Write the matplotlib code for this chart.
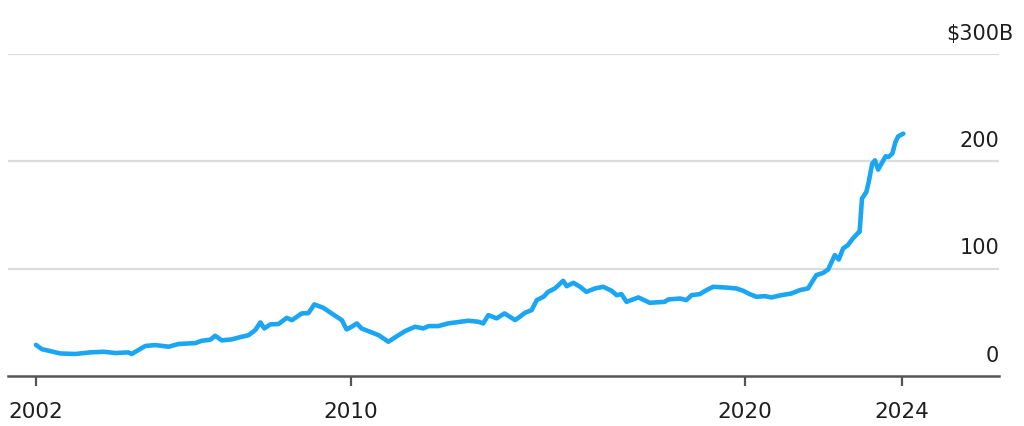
import matplotlib
matplotlib.use("Agg")
import matplotlib.pyplot as plt
import matplotlib.transforms as mtransforms

# ---- data ----
years = [2002.00, 2002.15, 2002.62, 2003.00, 2003.38, 2003.72, 2004.02, 2004.35, 2004.43,
         2004.78, 2005.03, 2005.37, 2005.62, 2006.05, 2006.21, 2006.43, 2006.55, 2006.72,
         2006.97, 2007.23, 2007.40, 2007.57, 2007.70, 2007.80, 2007.95, 2008.16, 2008.37,
         2008.50, 2008.75, 2008.92, 2009.07, 2009.30, 2009.51, 2009.77, 2009.89, 2010.02,
         2010.15, 2010.27, 2010.70, 2010.95, 2011.12, 2011.38, 2011.63, 2011.84, 2011.97,
         2012.22, 2012.47, 2012.98, 2013.24, 2013.36, 2013.49, 2013.70, 2013.90, 2014.17,
         2014.29, 2014.42, 2014.59, 2014.72, 2014.89, 2015.01, 2015.18, 2015.39, 2015.48,
         2015.65, 2015.82, 2015.98, 2016.20, 2016.41, 2016.62, 2016.75, 2016.87, 2017.00,
         2017.30, 2017.59, 2017.97, 2018.06, 2018.36, 2018.52, 2018.65, 2018.86, 2019.03,
         2019.20, 2019.49, 2019.79, 2019.96, 2020.13, 2020.30, 2020.51, 2020.68, 2020.93,
         2021.19, 2021.40, 2021.61, 2021.74, 2021.82, 2021.99, 2022.12, 2022.29, 2022.39,
         2022.50, 2022.62, 2022.75, 2022.88, 2022.92, 2022.98, 2023.09, 2023.15, 2023.24,
         2023.31, 2023.39, 2023.58, 2023.65, 2023.75, 2023.83, 2023.90, 2024.03]
values = [29.0, 25.0, 21.0, 20.5, 22.0, 22.6, 21.4, 22.0, 20.5,
          28.0, 28.8, 27.3, 29.8, 30.7, 32.8, 33.8, 37.5, 33.2,
          34.1, 36.6, 38.0, 42.8, 49.9, 44.3, 48.1, 48.4, 54.2,
          52.0, 58.3, 58.6, 66.7, 63.5, 58.3, 52.0, 43.4, 45.9,
          49.0, 44.3, 38.1, 31.9, 36.0, 41.9, 45.9, 44.3, 46.5,
          46.5, 49.0, 51.5, 50.5, 49.0, 56.7, 53.7, 58.3, 52.1,
          55.2, 58.9, 61.4, 70.7, 73.8, 78.4, 81.6, 88.7, 83.7,
          86.8, 83.1, 78.4, 81.6, 83.1, 79.4, 75.3, 76.3, 69.1,
          73.2, 68.2, 69.1, 71.3, 72.2, 70.7, 75.3, 76.3, 80.0,
          83.1, 82.5, 81.6, 79.4, 76.3, 73.8, 74.4, 73.2, 75.3,
          76.9, 80.0, 81.6, 89.3, 94.0, 96.0, 99.2, 112.6, 108.5,
          118.8, 121.9, 128.1, 133.3, 134.3, 165.3, 171.4, 180.7, 197.8,
          200.9, 192.3, 204.7, 204.0, 207.2, 218.0, 223.3, 225.8]

x_ticks = [2002, 2010, 2020, 2024]
x_tick_labels = ["2002", "2010", "2020", "2024"]
y_ticks = [0, 100, 200, 300]
y_tick_labels = ["0", "100", "200", "300"]

LINE_COLOR = "#1aa6f2"
TEXT_COLOR = "#1e1e1e"
AXIS_COLOR = "#555555"
GRID_COLOR = "#dcdcdc"

plt.rcParams["font.family"] = ["DejaVu Sans"]

fig = plt.figure(figsize=(10.24, 4.26), dpi=100)
ax = fig.add_axes([8 / 1024, 50 / 426, 991 / 1024, 322 / 426])

ax.set_xlim(2001.29, 2026.46)
ax.set_ylim(0, 300)

# gridlines
for v in y_ticks[1:]:
    ax.axhline(v, color=GRID_COLOR, lw=1.6, zorder=0)

ax.plot(years, values, color=LINE_COLOR, lw=3.3, solid_capstyle="round",
        solid_joinstyle="round", zorder=3, clip_on=False)

for s in ["left", "right", "top"]:
    ax.spines[s].set_visible(False)
ax.spines["bottom"].set_color(AXIS_COLOR)
ax.spines["bottom"].set_linewidth(1.8)

ax.set_yticks([])
ax.set_xticks(x_ticks)
ax.set_xticklabels(x_tick_labels)
ax.tick_params(axis="x", direction="out", length=7.5, width=1.6, color=AXIS_COLOR,
               labelsize=15.5, labelcolor=TEXT_COLOR, pad=11)

# y labels above gridlines, right aligned at axes right edge
trans = mtransforms.blended_transform_factory(ax.transAxes, ax.transData)
trans_up = mtransforms.offset_copy(trans, fig=fig, x=0, y=10.4, units="points")
for v, lab in zip(y_ticks, y_tick_labels):
    if v == 300:
        ax.text(1.0, v, "$" + lab, transform=trans_up, ha="right", va="baseline",
                fontsize=15, color=TEXT_COLOR)
        ax.text(1.0, v, "B", transform=trans_up, ha="left", va="baseline",
                fontsize=15, color=TEXT_COLOR)
    else:
        ax.text(1.0, v, lab, transform=trans_up, ha="right", va="baseline",
                fontsize=15, color=TEXT_COLOR)

fig.savefig("out.png", dpi=100, facecolor="white")
